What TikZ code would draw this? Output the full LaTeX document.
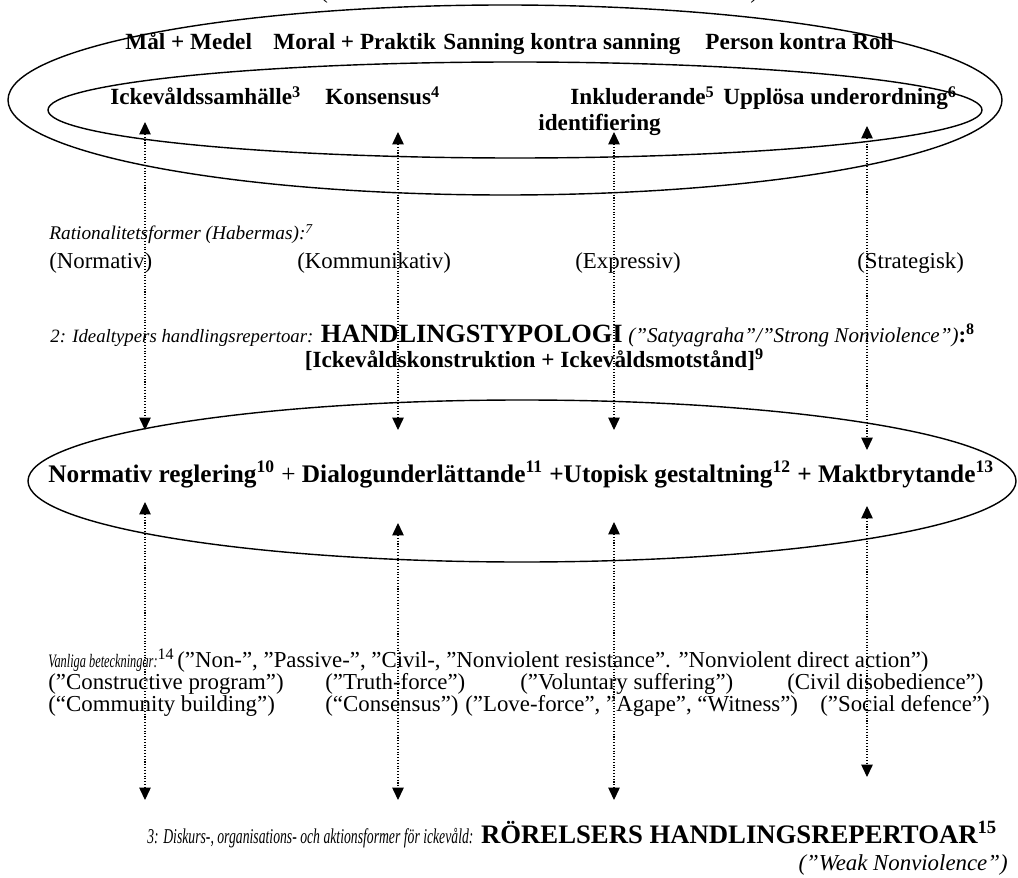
\documentclass[tikz,border=0pt]{standalone}
\usepackage{fontspec}
\setmainfont{Liberation Serif}
\newfontfamily\narrowfont{Liberation Serif}[FakeStretch=0.65]
\usetikzlibrary{arrows.meta,shapes.geometric}
\newcommand\fnum[1]{\textsuperscript{#1}}
\begin{document}
\begin{tikzpicture}[>={Triangle[width=6.5pt,length=7pt]},
 ring/.style={draw,ellipse,line width=0.8pt,inner sep=0pt},
 txt/.style={inner sep=0pt,anchor=base west,font=\fontsize{13}{15}\selectfont},
 bld/.style={txt,font=\fontsize{13.2}{15}\selectfont\bfseries},
 itl/.style={txt,font=\fontsize{11}{13}\selectfont\itshape},
 link/.style={<->,densely dotted,line width=0.6pt}]
\useasboundingbox (0,0) rectangle (20.36,-17.56);
\clip (0,0) rectangle (20.36,-17.56);
% ellipses
\node[ring,minimum width=19.88cm,minimum height=3.8cm] (outer) at (10.10,-2.00) {};
\node[ring,minimum width=18.68cm,minimum height=1.92cm] (inner) at (10.30,-2.20) {};
\node[ring,minimum width=19.76cm,minimum height=3.24cm] (mid) at (10.44,-9.62) {};
% heading cut off at the top
\node[txt] (lpar) at (6.40,0.02) {(};
\node[txt] (rpar) at (15.00,0.02) {)};
% level 1
\node[bld] (goal) at (2.50,-1.00) {Mål + Medel};
\node[bld] (moral) at (5.46,-1.00) {Moral + Praktik};
\node[bld] (truth) at (8.86,-1.00) {Sanning kontra sanning};
\node[bld] (person) at (14.10,-1.00) {Person kontra Roll};
\node[bld] (society) at (2.20,-2.10) {Ickevåldssamhälle\fnum{3}};
\node[bld] (consensus) at (6.50,-2.10) {Konsensus\fnum{4}};
\node[bld] (incl) at (11.40,-2.10) {Inkluderande\fnum{5}};
\node[bld] (subord) at (14.46,-2.10) {Upplösa underordning\fnum{6}};
\node[bld] (ident) at (10.76,-2.62) {identifiering};
% rationality forms
\node[itl] (habermas) at (0.98,-4.80) {Rationalitetsformer (Habermas):\fnum{7}};
\node[txt] (norm) at (0.98,-5.36) {(Normativ)};
\node[txt] (comm) at (5.94,-5.36) {(Kommunikativ)};
\node[txt] (expr) at (11.50,-5.36) {(Expressiv)};
\node[txt] (strat) at (17.14,-5.36) {(Strategisk)};
% level 2
\node[txt] (typo) at (1.00,-6.84) {{\itshape\fontsize{10.7}{13}\selectfont 2: Idealtypers handlingsrepertoar:} {\bfseries\fontsize{15}{18}\selectfont HANDLINGSTYPOLOGI} {\itshape\fontsize{12}{14}\selectfont (”Satyagraha”/”Strong Nonviolence”)}{\bfseries :\fnum{8}}};
\node[bld,anchor=base] (pair) at (10.69,-7.34) {[Ickevåldskonstruktion + Ickevåldsmotstånd]\fnum{9}};
\node[txt,font=\fontsize{14.4}{17}\selectfont\bfseries] (acts) at (0.96,-9.64) {Normativ reglering\fnum{10} {\mdseries +} Dialogunderlättande\fnum{11} +Utopisk gestaltning\fnum{12} + Maktbrytande\fnum{13}};
% common terms
\node[txt] (common) at (0.96,-13.34) {{\narrowfont\itshape\fontsize{10.8}{13}\selectfont Vanliga beteckningar:}\fnum{14}};
\node[txt] (terms) at (3.54,-13.34) {(”Non-”, ”Passive-”, ”Civil-, ”Nonviolent resistance”. ”Nonviolent direct action”)};
\node[txt] (constr) at (0.96,-13.78) {(”Constructive program”)};
\node[txt] (force) at (6.50,-13.78) {(”Truth-force”)};
\node[txt] (suffer) at (10.40,-13.78) {(”Voluntary suffering”)};
\node[txt] (disob) at (15.74,-13.78) {(Civil disobedience”)};
\node[txt] (build) at (0.96,-14.22) {(“Community building”)};
\node[txt] (cons) at (6.50,-14.22) {(“Consensus”)};
\node[txt] (love) at (9.30,-14.22) {(”Love-force”, ”Agape”, “Witness”)};
\node[txt] (defence) at (16.40,-14.22) {(”Social defence”)};
% level 3
\node[txt] (move) at (2.94,-16.86) {{\narrowfont\itshape\fontsize{12}{14}\selectfont 3: Diskurs-, organisations- och aktionsformer för ickevåld:} {\bfseries\fontsize{15.2}{18}\selectfont RÖRELSERS HANDLINGSREPERTOAR\fnum{15}}};
\node[txt,anchor=base east,font=\fontsize{13}{15}\selectfont\itshape] (weak) at (20.16,-17.40) {(”Weak Nonviolence”)};
% dotted links
\foreach \n/\x/\a/\b in {1/2.90/-2.44/-8.60,2/7.96/-2.64/-8.60,3/12.28/-2.64/-8.60,4/17.34/-2.52/-9.00}{
 \coordinate (up\n) at (\x,\a); \coordinate (dn\n) at (\x,\b);
 \draw[link] (up\n) -- (dn\n);}
\foreach \n/\x/\a/\b in {1/2.90/-10.04/-16.00,2/7.96/-10.46/-16.00,3/12.28/-10.44/-16.00,4/17.34/-10.12/-15.54}{
 \coordinate (lt\n) at (\x,\a); \coordinate (lb\n) at (\x,\b);
 \draw[link] (lt\n) -- (lb\n);}
\end{tikzpicture}
\end{document}
